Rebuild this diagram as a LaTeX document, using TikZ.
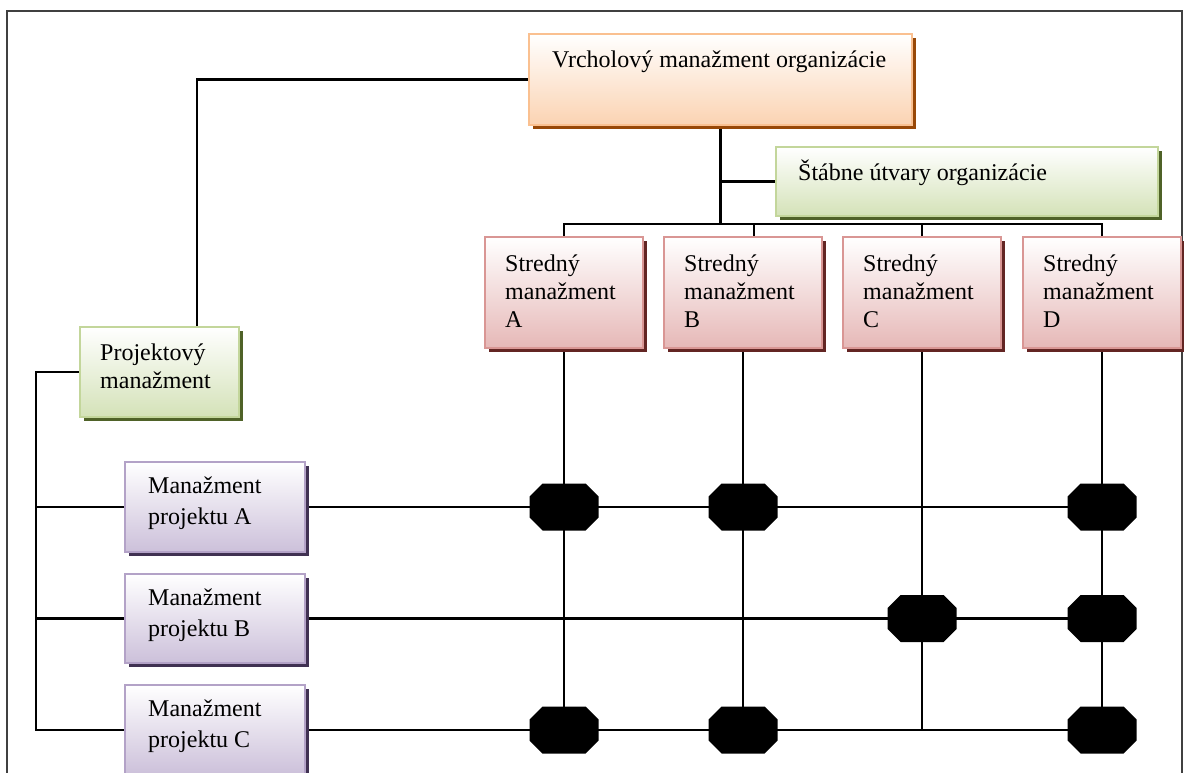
\documentclass[tikz,border=0pt]{standalone}
\usepackage{fontspec}
\setmainfont{Liberation Serif}
\usetikzlibrary{shadows,backgrounds}

\definecolor{orgLine}{HTML}{FAC090}
\definecolor{orgFill}{HTML}{FBD3B2}
\definecolor{orgShadow}{HTML}{984807}
\definecolor{grnLine}{HTML}{C3D69B}
\definecolor{grnFill}{HTML}{D4E2B8}
\definecolor{grnShadow}{HTML}{4F6228}
\definecolor{redLine}{HTML}{D99694}
\definecolor{redFill}{HTML}{E6B8B7}
\definecolor{redShadow}{HTML}{632523}
\definecolor{vioLine}{HTML}{B3A2C7}
\definecolor{vioFill}{HTML}{CCC0DA}
\definecolor{vioShadow}{HTML}{403152}

% stacked left-aligned lines whose baseline is the first line
\newcommand\boxlines[1]{\vtop{\halign{##\hfil\cr#1\crcr}}}

\begin{document}
\begin{tikzpicture}[x=1pt,y=-1pt,
  box/.style={rectangle, line width=2pt, inner sep=0pt, outer sep=0pt, anchor=north west},
  orgbox/.style={box, draw=orgLine, top color=white, bottom color=orgFill,
    general shadow={fill=orgShadow, shadow xshift=4pt, shadow yshift=-4pt}},
  grnbox/.style={box, draw=grnLine, top color=white, bottom color=grnFill,
    general shadow={fill=grnShadow, shadow xshift=4pt, shadow yshift=-4pt}},
  redbox/.style={box, draw=redLine, top color=white, bottom color=redFill,
    general shadow={fill=redShadow, shadow xshift=4pt, shadow yshift=-4pt}},
  viobox/.style={box, draw=vioLine, top color=white, bottom color=vioFill,
    general shadow={fill=vioShadow, shadow xshift=4pt, shadow yshift=-4pt}},
  txt/.style={anchor=base west, inner sep=0pt, font=\fontsize{24}{28}\selectfont},
  ptxt/.style={txt, font=\fontsize{24}{31}\selectfont},
  link/.style={line width=2.3pt, black},
  octnode/.style={rectangle, minimum width=69pt, minimum height=47pt,
    inner sep=0pt, outer sep=0pt,
    path picture={\fill[black]
      ([shift={(-34.5,-10.5)}]path picture bounding box.center) --
      ([shift={(-21.5,-23.5)}]path picture bounding box.center) --
      ([shift={(21.5,-23.5)}]path picture bounding box.center) --
      ([shift={(34.5,-10.5)}]path picture bounding box.center) --
      ([shift={(34.5,10.5)}]path picture bounding box.center) --
      ([shift={(21.5,23.5)}]path picture bounding box.center) --
      ([shift={(-21.5,23.5)}]path picture bounding box.center) --
      ([shift={(-34.5,10.5)}]path picture bounding box.center) -- cycle;}},
  frame/.style={line width=2pt, black!75}
]
\useasboundingbox (0,0) rectangle (1184,773);

% outer frame (open at the bottom)
\draw[frame] (7,773) -- (7,11.5) -- (1181.5,11.5) -- (1181.5,773);

% boxes
\path
  node[orgbox, minimum width=383pt, minimum height=91pt] (top) at (529,34) {}
  node[grnbox, minimum width=382pt, minimum height=69pt] (staff) at (776,147) {}
  node[redbox, minimum width=158pt, minimum height=111pt] (midA) at (485,237) {}
  node[redbox, minimum width=158pt, minimum height=111pt] (midB) at (664,237) {}
  node[redbox, minimum width=158pt, minimum height=111pt] (midC) at (843,237) {}
  node[redbox, minimum width=158pt, minimum height=111pt] (midD) at (1023,237) {}
  node[grnbox, minimum width=159pt, minimum height=90pt] (proj) at (80,327) {}
  node[viobox, minimum width=180pt, minimum height=90pt] (pA) at (125,462) {}
  node[viobox, minimum width=180pt, minimum height=89pt] (pB) at (125,574) {}
  node[viobox, minimum width=180pt, minimum height=90pt] (pC) at (125,685) {};

% box texts
\node[txt] (tTop) at ([shift={(23,34)}]top.north west) {Vrcholový manažment organizácie};
\node[txt] (tStaff) at ([shift={(22,34)}]staff.north west) {Štábne útvary organizácie};
\node[txt] (tMidA) at ([shift={(20,34)}]midA.north west) {\boxlines{Stredný\cr manažment\cr A}};
\node[txt] (tMidB) at ([shift={(20,34)}]midB.north west) {\boxlines{Stredný\cr manažment\cr B}};
\node[txt] (tMidC) at ([shift={(20,34)}]midC.north west) {\boxlines{Stredný\cr manažment\cr C}};
\node[txt] (tMidD) at ([shift={(20,34)}]midD.north west) {\boxlines{Stredný\cr manažment\cr D}};
\node[txt] (tProj) at ([shift={(20,33)}]proj.north west) {\boxlines{Projektový\cr manažment}};
\node[ptxt] (tPA) at ([shift={(23,31)}]pA.north west) {\boxlines{Manažment\cr projektu A}};
\node[ptxt] (tPB) at ([shift={(23,31)}]pB.north west) {\boxlines{Manažment\cr projektu B}};
\node[ptxt] (tPC) at ([shift={(23,31)}]pC.north west) {\boxlines{Manažment\cr projektu C}};

% junction points of the connectors
\coordinate (bus) at (0,224);
\coordinate (dropB) at (754,224);
\coordinate (pjx) at (197,0);
\coordinate (lb) at (36,0);

% octagons at the crossings
\path
  node[octnode] (xAA) at (midA.south |- pA.east) {}
  node[octnode] (xAB) at (midB.south |- pA.east) {}
  node[octnode] (xAD) at (midD.south |- pA.east) {}
  node[octnode] (xBC) at (midC.south |- pB.east) {}
  node[octnode] (xBD) at (midD.south |- pB.east) {}
  node[octnode] (xCA) at (midA.south |- pC.east) {}
  node[octnode] (xCB) at (midB.south |- pC.east) {}
  node[octnode] (xCD) at (midD.south |- pC.east) {};

% connectors, under boxes and octagons
\begin{scope}[on background layer]
  % top management to staff units and to the middle level
  \draw[link] (top.south) -- (top.south |- bus);
  \draw[link] (top.south |- staff.west) -- (staff.west);
  \draw[link] (midA.north) -- (midA.north |- bus) -- (midD.north |- bus) -- (midD.north);
  \draw[link] (midC.north |- bus) -- (midC.north);
  \draw[link] (dropB) -- (dropB |- midB.north);
  % top management to project management
  \draw[link] (top.west) -| (pjx |- proj.north);
  % project management to the project managers
  \draw[link] (proj.west) -| (lb |- pC.west) -- (pC.west);
  \draw[link] (lb |- pA.west) -- (pA.west);
  \draw[link] (lb |- pB.west) -- (pB.west);
  % middle-management columns
  \draw[link] (midA.south) -- (xCA);
  \draw[link] (midB.south) -- (xCB);
  \draw[link] (midC.south) -- (midC.south |- pC.east);
  \draw[link] (midD.south) -- (xCD);
  % project rows
  \draw[link] (pA.east) -- (xAD);
  \draw[link] (pB.east) -- (xBD);
  \draw[link] (pC.east) -- (xCD);
\end{scope}
\end{tikzpicture}
\end{document}
